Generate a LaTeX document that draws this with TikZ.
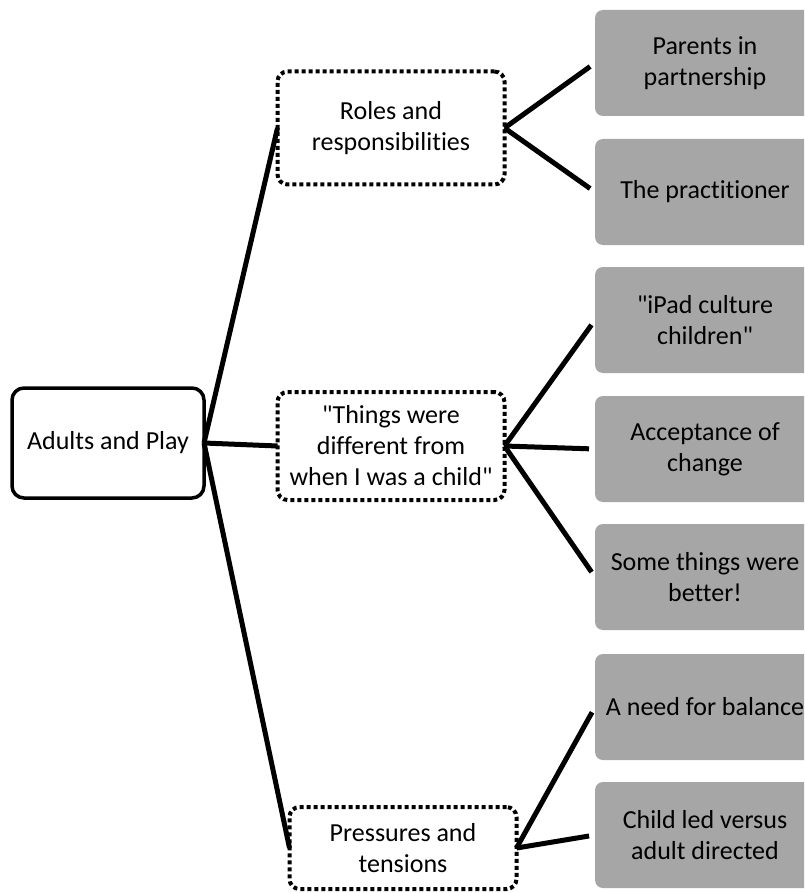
\documentclass[tikz,border=0pt]{standalone}
\usepackage{fontspec}
\setmainfont{Carlito}[Ligatures={NoCommon}]
\definecolor{boxgray}{RGB}{166,166,166}
\begin{document}
\begin{tikzpicture}[x=1pt,y=-1pt,
  every node/.style={font=\fontsize{26}{31}\selectfont, align=center, inner sep=0pt, outer sep=0pt},
  rootbox/.style={draw=black, line width=3.5pt, rounded corners=12pt, minimum width=192pt, minimum height=110pt},
  themebox/.style={draw=black, line width=4pt, dash pattern=on 4pt off 3pt, rounded corners=10pt, minimum width=227pt},
  leafbox/.style={fill=boxgray, rounded corners=8pt, minimum width=220pt, minimum height=106pt},
  link/.style={line width=5pt, black}
]
\useasboundingbox (0,0) rectangle (804,893);
\clip (0,0) rectangle (804,893);
% root
\node[rootbox] (adults) at (108,443) {Adults and Play};
% themes
\node[themebox, minimum height=113pt] (roles) at (391,128) {Roles and\\responsibilities};
\node[themebox, minimum height=108pt] (things) at (391,446) {\textquotedbl Things were\\different from\\when I was a child\textquotedbl};
\node[themebox, minimum height=82pt] (press) at (403,848) {Pressures and\\tensions};
% leaves
\node[leafbox] (g1) at (705,63) {Parents in\\partnership};
\node[leafbox] (g2) at (705,192) {The practitioner};
\node[leafbox] (g3) at (705,320) {\textquotedbl iPad culture\\children\textquotedbl};
\node[leafbox] (g4) at (705,449) {Acceptance of\\change};
\node[leafbox] (g5) at (705,577) {Some things were\\better!};
\node[leafbox] (g6) at (705,707) {A need for balance};
\node[leafbox] (g7) at (705,835) {Child led versus\\adult directed};
% connectors
\draw[link] (adults.east) -- (roles.west);
\draw[link] (adults.east) -- (things.west);
\draw[link] (adults.east) -- (press.west);
\draw[link, shorten >=6pt] (roles.east) -- (g1.west);
\draw[link, shorten >=6pt] (roles.east) -- (g2.west);
\draw[link, shorten >=6pt] (things.east) -- (g3.west);
\draw[link, shorten >=6pt] (things.east) -- (g4.west);
\draw[link, shorten >=6pt] (things.east) -- (g5.west);
\draw[link, shorten >=6pt] (press.east) -- (g6.west);
\draw[link, shorten >=6pt] (press.east) -- (g7.west);
\end{tikzpicture}
\end{document}
